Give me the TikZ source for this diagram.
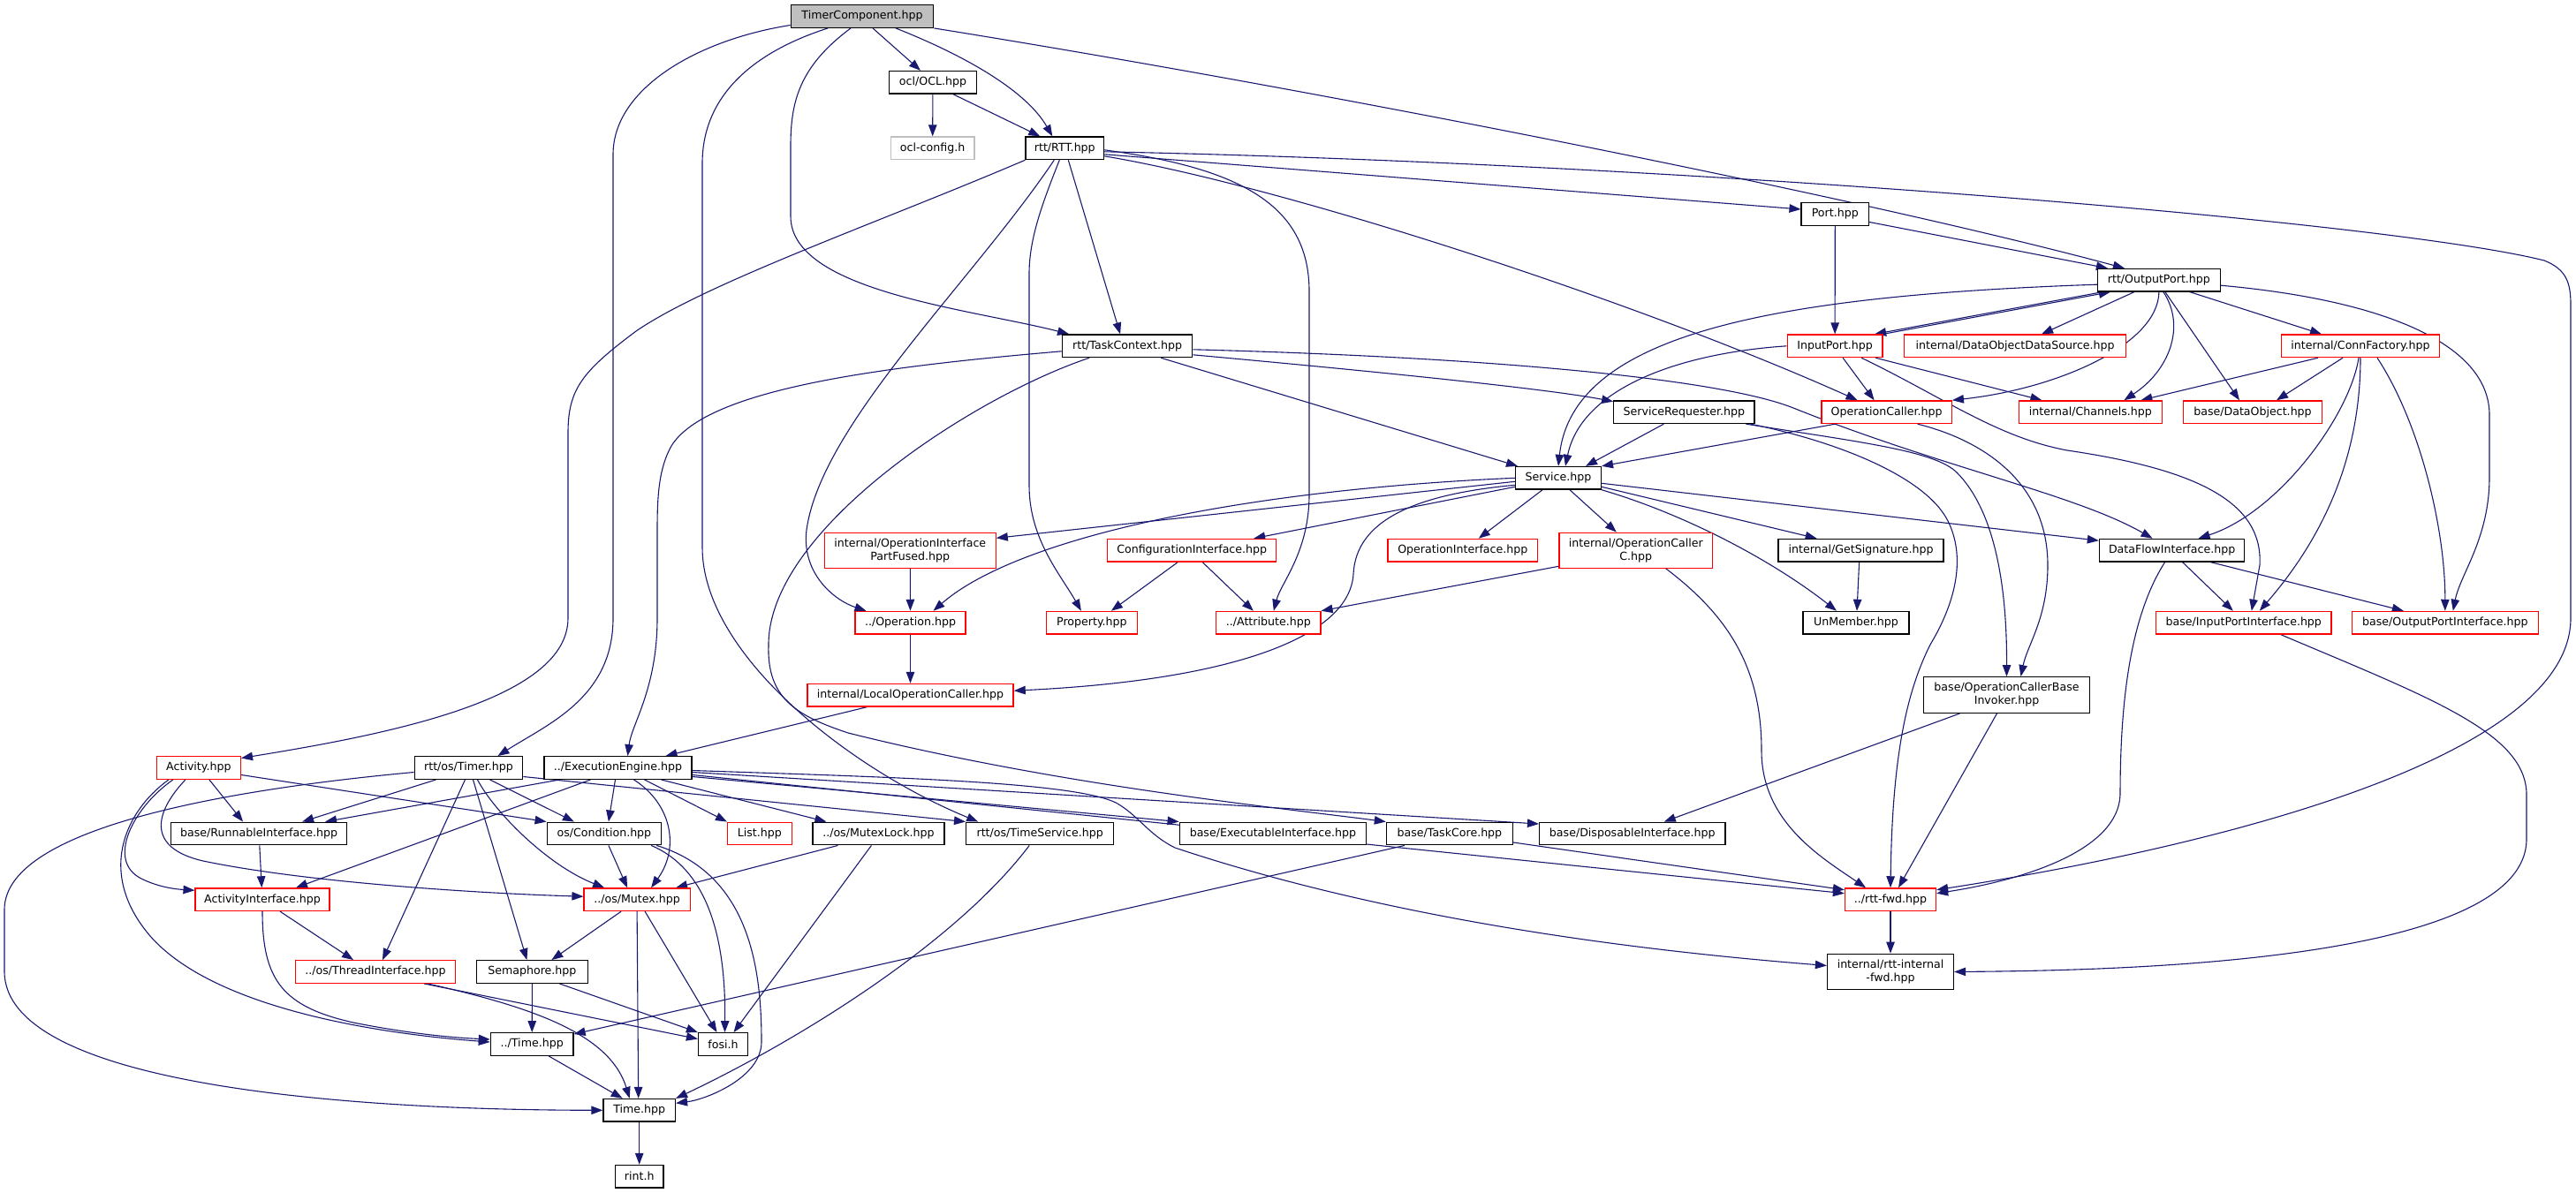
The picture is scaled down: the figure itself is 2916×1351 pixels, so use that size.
\documentclass[tikz,border=0pt]{standalone}
\usepackage{fontspec}
\setmainfont{DejaVu Sans}
\usepackage{tikz}
\usetikzlibrary{arrows.meta}
\pgfdeclarelayer{edgelayer}
\pgfsetlayers{edgelayer,main}
\definecolor{edgeblue}{HTML}{191970}
\definecolor{rootgray}{HTML}{BFBFBF}
\newcommand{\nodefont}{\fontsize{12.6}{15}\selectfont}
\tikzset{
  nd/.style={draw=black, line width=1.3pt, fill=white, inner sep=0pt, minimum height=25.6pt, align=center, font=\nodefont, text=black},
  rd/.style={nd, draw=red},
  grnode/.style={nd, draw=rootgray},
  rootnode/.style={nd, fill=rootgray},
  edg/.style={draw=edgeblue, line width=1.1pt, -{Triangle[length=13pt,width=9.5pt]}, fill=none},
}
\begin{document}
\begin{tikzpicture}[x=1pt,y=-1pt]
\useasboundingbox (0,0) rectangle (2916,1351);
% ---------------- nodes
\node[rootnode, minimum width=161.5pt] (tc) at (976,18.5) {TimerComponent.hpp};
\node[nd, minimum width=98.7pt] (ocl) at (1056,93.3) {ocl/OCL.hpp};
\node[grnode, minimum width=94.5pt] (oclcfg) at (1055.6,167.8) {ocl-config.h};
\node[nd, minimum width=88.4pt] (rtt) at (1205.3,167.8) {rtt/RTT.hpp};
\node[nd, minimum width=76.4pt] (port) at (2077.3,242.5) {Port.hpp};
\node[nd, minimum width=138.8pt] (outport) at (2443.9,317.2) {rtt/OutputPort.hpp};
\node[nd, minimum width=147.2pt] (taskctx) at (1276.1,391.8) {rtt/TaskContext.hpp};
\node[rd, minimum width=107.6pt] (inport) at (2077.1,391.8) {InputPort.hpp};
\node[rd, minimum width=251.2pt] (dods) at (2281.1,391.8) {internal/DataObjectDataSource.hpp};
\node[rd, minimum width=178.8pt] (connf) at (2672,391.8) {internal/ConnFactory.hpp};
\node[nd, minimum width=159.3pt] (servreq) at (1906.4,466.7) {ServiceRequester.hpp};
\node[rd, minimum width=147.4pt] (opcaller) at (2135.6,466.7) {OperationCaller.hpp};
\node[rd, minimum width=161.6pt] (channels) at (2366.4,466.7) {internal/Channels.hpp};
\node[rd, minimum width=157.3pt] (dataobj) at (2550,466.7) {base/DataObject.hpp};
\node[nd, minimum width=96.8pt] (service) at (1764,541.3) {Service.hpp};
\node[rd, minimum width=193.7pt, minimum height=40pt] (partfused) at (1030.3,623.3) {internal/OperationInterface\\PartFused.hpp};
\node[rd, minimum width=190.9pt] (config) at (1349.2,623.2) {ConfigurationInterface.hpp};
\node[rd, minimum width=169.9pt] (opiface) at (1655.8,623.2) {OperationInterface.hpp};
\node[rd, minimum width=173.6pt, minimum height=40pt] (opcallerc) at (1851.8,623.3) {internal/OperationCaller\\C.hpp};
\node[nd, minimum width=187pt] (getsig) at (2106.6,623.2) {internal/GetSignature.hpp};
\node[nd, minimum width=164.3pt] (dataflow) at (2458.6,623.2) {DataFlowInterface.hpp};
\node[rd, minimum width=125.2pt] (operation) at (1030.5,705.2) {../Operation.hpp};
\node[rd, minimum width=102.9pt] (property) at (1235.9,705.2) {Property.hpp};
\node[rd, minimum width=118.3pt] (attribute) at (1435.8,705.2) {../Attribute.hpp};
\node[nd, minimum width=120.1pt] (unmember) at (2101,705.2) {UnMember.hpp};
\node[rd, minimum width=198.3pt] (inppi) at (2539.8,705.2) {base/InputPortInterface.hpp};
\node[rd, minimum width=210.9pt] (outppi) at (2767.8,705.2) {base/OutputPortInterface.hpp};
\node[rd, minimum width=233.2pt] (localop) at (1030.5,787.2) {internal/LocalOperationCaller.hpp};
\node[nd, minimum width=188.3pt, minimum height=40.6pt] (invoker) at (2271.5,787) {base/OperationCallerBase\\Invoker.hpp};
\node[rd, minimum width=95pt] (activity) at (224.9,869.5) {Activity.hpp};
\node[nd, minimum width=122.4pt] (timer) at (530.5,869.5) {rtt/os/Timer.hpp};
\node[nd, minimum width=167.2pt] (execeng) at (699.5,869.5) {../ExecutionEngine.hpp};
\node[nd, minimum width=198.8pt] (runnable) at (293.1,944) {base/RunnableInterface.hpp};
\node[nd, minimum width=129.4pt] (condition) at (683.9,944) {os/Condition.hpp};
\node[rd, minimum width=72.6pt] (list) at (859.9,944) {List.hpp};
\node[nd, minimum width=149pt] (mutexlock) at (994.4,944) {../os/MutexLock.hpp};
\node[nd, minimum width=167.1pt] (timeserv) at (1177.2,944) {rtt/os/TimeService.hpp};
\node[nd, minimum width=211.4pt] (execif) at (1440.9,944) {base/ExecutableInterface.hpp};
\node[nd, minimum width=142.9pt] (taskcore) at (1640.9,944) {base/TaskCore.hpp};
\node[nd, minimum width=210.4pt] (dispif) at (1847.8,944) {base/DisposableInterface.hpp};
\node[rd, minimum width=151.8pt] (actif) at (297,1018.7) {ActivityInterface.hpp};
\node[rd, minimum width=120.1pt] (mutex) at (721.1,1018.7) {../os/Mutex.hpp};
\node[rd, minimum width=103pt] (rttfwd) at (2140,1018.7) {../rtt-fwd.hpp};
\node[rd, minimum width=181.5pt] (threadif) at (425,1100.5) {../os/ThreadInterface.hpp};
\node[nd, minimum width=125.7pt] (semaphore) at (602.4,1100.5) {Semaphore.hpp};
\node[nd, minimum width=143pt, minimum height=40.4pt] (intfwd) at (2140,1100.5) {internal/rtt-internal\\-fwd.hpp};
\node[nd, minimum width=93.6pt] (ostime) at (602.2,1182.5) {../Time.hpp};
\node[nd, minimum width=55.9pt] (fosi) at (818.5,1182.5) {fosi.h};
\node[nd, minimum width=81.5pt] (time) at (723.7,1257.3) {Time.hpp};
\node[nd, minimum width=54.5pt] (rint) at (723.7,1332.2) {rint.h};
% ---------------- edges
\begin{pgfonlayer}{edgelayer}
% TimerComponent
\draw[edg] ([xshift=12]tc.south) -- ([xshift=-14]ocl.north);
\draw[edg] ([xshift=38]tc.south) .. controls (1085,60) and (1160,100) .. ([xshift=-14]rtt.north);
\draw[edg] ([xshift=-13]tc.south) .. controls (905,75) and (895,115) .. (895,165) -- (895,245) .. controls (895,330) and (1100,350) .. ([xshift=-66]taskctx.north);
\draw[edg] (tc.south east) .. controls (1500,103) and (2100,222) .. ([xshift=-39]outport.north);
\draw[edg] ([yshift=-10]tc.west) .. controls (790,45) and (694,100) .. (694,175) -- (694,700) .. controls (694,790) and (620,820) .. ([xshift=33]timer.north);
\draw[edg] ([xshift=-39]tc.south) .. controls (850,60) and (795,110) .. (795,185) -- (795,620) .. controls (795,740) and (960,870) .. ([xshift=-70]timeserv.north);
% OCL
\draw[edg] (ocl) -- (oclcfg);
\draw[edg] ([xshift=23]ocl.south) -- ([xshift=-28]rtt.north);
% RTT
\draw[edg] (rtt.south west) .. controls (1000,250) and (800,320) .. (720,375) .. controls (660,420) and (643,440) .. (643,490) -- (643,700) .. controls (643,790) and (450,830) .. ([yshift=11]activity.east);
\draw[edg] ([xshift=4]rtt.south) -- ([xshift=-8]taskctx.north);
\draw[edg] ([xshift=-12]rtt.south) .. controls (1100,320) and (930,480) .. (913,600) .. controls (907,650) and (945,680) .. ([xshift=-50]operation.north);
\draw[edg] ([xshift=-6]rtt.south) .. controls (1180,230) and (1165,270) .. (1165,310) -- (1165,550) .. controls (1165,610) and (1200,650) .. ([xshift=-12]property.north);
\draw[edg] ([yshift=-2]rtt.east) .. controls (1400,190) and (1482,230) .. (1482,330) -- (1482,560) .. controls (1482,625) and (1450,660) .. ([xshift=6]attribute.north);
\draw[edg] ([yshift=-7]rtt.east) -- ([yshift=5.5]port.west);
\draw[edg] ([yshift=-9]rtt.east) .. controls (1450,210) and (1850,340) .. ([xshift=-33]opcaller.north);
\draw[edg] ([yshift=-4]rtt.east) .. controls (1900,185) and (2700,250) .. (2880,295) .. controls (2905,305) and (2910,320) .. (2910,345) -- (2910,700) .. controls (2910,860) and (2500,960) .. ([yshift=11]rttfwd.east);
% Port / OutputPort / InputPort
\draw[edg] (port) -- (inport);
\draw[edg] ([yshift=-9]port.east) -- ([xshift=-58]outport.north);
\draw[edg] ([xshift=-64]outport.south) -- ([xshift=45]inport.north);
\draw[edg] (inport.north east) -- ([xshift=-55]outport.south);
\draw[edg] ([xshift=-28]outport.south) -- ([xshift=30]dods.north);
\draw[edg] ([xshift=35]outport.south) -- ([xshift=-44]connf.north);
\draw[edg] ([yshift=-5]outport.west) .. controls (2000,335) and (1780,380) .. (service.north);
\draw[edg] (outport.south) .. controls (2443,390) and (2330,440) .. (opcaller.north east);
\draw[edg] ([xshift=5]outport.south) .. controls (2475,370) and (2455,420) .. ([xshift=38]channels.north);
\draw[edg] ([xshift=7]outport.south) -- ([xshift=-15]dataobj.north);
\draw[edg] ([yshift=-6]outport.east) .. controls (2700,340) and (2818,390) .. (2818,470) -- (2818,540) .. controls (2818,610) and (2785,650) .. ([xshift=9]outppi.north);
\draw[edg] (inport.west) .. controls (1900,400) and (1790,440) .. ([xshift=8]service.north);
\draw[edg] ([xshift=9]inport.south) -- ([xshift=-14]opcaller.north);
\draw[edg] ([xshift=46]inport.south) -- ([xshift=-55]channels.north);
\draw[edg] ([xshift=30]inport.south) .. controls (2200,450) and (2260,495) .. (2340,510) .. controls (2490,532) and (2562,570) .. (2558,640) -- ([xshift=9]inppi.north);
% ConnFactory
\draw[edg] ([xshift=-48]connf.south) -- ([xshift=57]channels.north);
\draw[edg] ([xshift=-20]connf.south) -- ([xshift=27]dataobj.north);
\draw[edg] ([xshift=-2]connf.south) .. controls (2660,470) and (2580,580) .. ([xshift=30]dataflow.north);
\draw[edg] (connf.south) .. controls (2672,530) and (2620,620) .. ([xshift=18]inppi.north);
\draw[edg] ([xshift=19]connf.south) .. controls (2740,480) and (2768,600) .. (outppi.north);
% ServiceRequester / OperationCaller
\draw[edg] ([xshift=-23]servreq.south) -- ([xshift=31]service.north);
\draw[edg] ([xshift=-58]opcaller.south) -- (service.north east);
\draw[edg] ([xshift=70]servreq.south) .. controls (2100,500) and (2190,510) .. (2215,535) .. controls (2250,570) and (2272,640) .. (invoker.north);
\draw[edg] ([xshift=75]servreq.south) .. controls (2080,500) and (2180,540) .. (2205,590) .. controls (2225,630) and (2215,680) .. (2185,730) .. controls (2160,780) and (2142,850) .. (rttfwd.north);
\draw[edg] ([xshift=35]opcaller.south) .. controls (2250,500) and (2318,550) .. (2318,640) .. controls (2318,700) and (2295,730) .. ([xshift=16]invoker.north);
% Invoker
\draw[edg] ([xshift=-53]invoker.south) -- ([xshift=36]dispif.north);
\draw[edg] ([xshift=-11]invoker.south) -- ([xshift=9]rttfwd.north);
% OperationCallerC
\draw[edg] ([yshift=-18]opcallerc.west) -- (attribute.north east);
\draw[edg] ([xshift=34]opcallerc.south) .. controls (1960,700) and (1994,760) .. (1994,850) .. controls (1994,930) and (2060,970) .. ([xshift=-28]rttfwd.north);
% Service
\draw[edg] (service.west) .. controls (1400,555) and (1150,610) .. ([xshift=26]operation.north);
\draw[edg] ([yshift=-4]service.west) -- ([yshift=14]partfused.east);
\draw[edg] ([yshift=-10]service.west) -- ([xshift=70]config.north);
\draw[edg] ([yshift=-8]service.west) .. controls (1600,560) and (1535,590) .. (1532,650) .. controls (1528,720) and (1400,770) .. ([yshift=5]localop.east);
\draw[edg] ([xshift=-18]service.south) -- ([xshift=18]opiface.north);
\draw[edg] ([xshift=13]service.south) -- ([xshift=-22]opcallerc.north);
\draw[edg] ([yshift=-10]service.east) -- ([xshift=-50]getsig.north);
\draw[edg] (service.south east) .. controls (1900,580) and (2000,630) .. ([xshift=-22]unmember.north);
\draw[edg] ([yshift=-6]service.east) -- ([yshift=11]dataflow.west);
\draw[edg] ([xshift=-2]getsig.south) -- ([xshift=1]unmember.north);
% Configuration etc
\draw[edg] ([xshift=-16]config.south) -- ([xshift=22]property.north);
\draw[edg] ([xshift=12]config.south) -- ([xshift=-17]attribute.north);
\draw[edg] (partfused) -- (operation);
\draw[edg] (operation) -- (localop);
\draw[edg] ([xshift=-49]localop.south) -- ([xshift=54]execeng.north);
% TaskContext
\draw[edg] ([yshift=-6]taskctx.west) .. controls (1000,415) and (800,440) .. (760,505) .. controls (746,530) and (744,560) .. (744,600) -- (744,700) .. controls (744,780) and (715,820) .. ([xshift=11]execeng.north);
\draw[edg] ([xshift=-43]taskctx.south) .. controls (1100,450) and (870,600) .. (870,730) .. controls (868,790) and (900,810) .. (960,830) .. controls (1200,890) and (1450,915) .. (taskcore.north west);
\draw[edg] ([xshift=38]taskctx.south) -- ([xshift=-46]service.north);
\draw[edg] ([yshift=-10]taskctx.east) .. controls (1550,420) and (1750,440) .. ([yshift=12]servreq.west);
\draw[edg] ([yshift=-4]taskctx.east) .. controls (1700,405) and (1950,430) .. (2030,462) .. controls (2200,530) and (2350,560) .. ([xshift=-22]dataflow.north);
% DataFlowInterface
\draw[edg] ([xshift=12]dataflow.south) -- ([xshift=-12]inppi.north);
\draw[edg] ([xshift=44]dataflow.south) -- ([xshift=-47]outppi.north);
\draw[edg] ([xshift=-8]dataflow.south) .. controls (2410,700) and (2400,800) .. (2400,900) .. controls (2398,960) and (2300,995) .. ([yshift=7]rttfwd.east);
\draw[edg] ([xshift=42]inppi.south) .. controls (2750,790) and (2860,830) .. (2860,900) -- (2860,950) .. controls (2860,1090) and (2400,1099) .. (intfwd.east);
\draw[edg] (rttfwd) -- (intfwd);
% Activity
\draw[edg] ([xshift=12]activity.south) -- ([xshift=-18]runnable.north);
\draw[edg] ([yshift=-8]activity.east) -- (condition.north west);
\draw[edg] ([xshift=-34]activity.south) .. controls (140,920) and (110,990) .. (170,1060) .. controls (240,1140) and (420,1170) .. ([yshift=2.5]ostime.west);
\draw[edg] ([xshift=-29]activity.south) .. controls (150,915) and (120,975) .. (160,995) .. controls (180,1005) and (200,1007) .. ([yshift=-3]actif.north west);
\draw[edg] ([xshift=-15]activity.south) .. controls (175,920) and (165,960) .. (230,975) .. controls (350,1000) and (550,1012) .. ([yshift=3.5]mutex.west);
% Timer
\draw[edg] ([yshift=-5]timer.west) .. controls (300,890) and (5,930) .. (5,1030) -- (5,1100) .. controls (5,1230) and (400,1257) .. (time.west);
\draw[edg] ([xshift=-37]timer.south) -- ([xshift=49]runnable.north);
\draw[edg] ([xshift=-4]timer.south) -- ([xshift=8]threadif.north);
\draw[edg] ([xshift=5]timer.south) -- ([xshift=-6]semaphore.north);
\draw[edg] ([xshift=10]timer.south) .. controls (560,920) and (620,980) .. ([xshift=-37]mutex.north);
\draw[edg] ([xshift=24]timer.south) -- ([xshift=-34]condition.north);
\draw[edg] ([yshift=-10]timer.east) -- (timeserv.north west);
% ExecutionEngine
\draw[edg] ([xshift=-66]execeng.south) -- ([xshift=75]runnable.north);
\draw[edg] ([xshift=-31]execeng.south) -- ([xshift=38]actif.north);
\draw[edg] ([xshift=-3]execeng.south) -- ([xshift=5]condition.north);
\draw[edg] ([xshift=18]execeng.south) .. controls (760,910) and (770,960) .. ([xshift=16]mutex.north);
\draw[edg] ([xshift=30]execeng.south) -- (list.north west);
\draw[edg] ([xshift=49]execeng.south) -- ([xshift=-59]mutexlock.north);
\draw[edg] ([yshift=-10]execeng.east) -- (execif.north west);
\draw[edg] ([yshift=-8]execeng.east) -- ([yshift=7]rttfwd.west);
\draw[edg] ([yshift=-5]execeng.east) -- ([yshift=11]dispif.west);
\draw[edg] ([yshift=-3]execeng.east) .. controls (1000,880) and (1220,885) .. (1265,910) .. controls (1290,925) and (1300,945) .. (1330,960) .. controls (1600,1050) and (1900,1080) .. ([yshift=7]intfwd.west);
% Condition, MutexLock, Mutex
\draw[edg] ([xshift=5]condition.south) -- ([xshift=-11]mutex.north);
\draw[edg] ([xshift=-12]condition.south east) .. controls (790,980) and (822,1040) .. ([xshift=2]fosi.north);
\draw[edg] ([xshift=-6]condition.south east) .. controls (850,990) and (862,1100) .. (862,1180) .. controls (862,1220) and (800,1245) .. ([yshift=8]time.east);
\draw[edg] ([xshift=-46]mutexlock.south) -- ([xshift=44]mutex.north);
\draw[edg] ([xshift=-8]mutexlock.south) -- ([xshift=12]fosi.north);
\draw[edg] ([xshift=-18]mutex.south) -- ([xshift=22]semaphore.north);
\draw[edg] (mutex.south) -- ([xshift=-1]time.north);
\draw[edg] ([xshift=9]mutex.south) -- ([xshift=-7]fosi.north);
% ActivityInterface, Runnable
\draw[edg] (runnable) -- (actif);
\draw[edg] ([xshift=20]actif.south) -- ([xshift=-25]threadif.north);
\draw[edg] (actif.south) .. controls (297,1110) and (320,1140) .. (400,1158) .. controls (460,1170) and (510,1175) .. ([yshift=5.5]ostime.west);
% ThreadInterface, Semaphore, Time
\draw[edg] ([xshift=59]threadif.south) .. controls (600,1140) and (690,1170) .. ([xshift=-11]time.north);
\draw[edg] ([xshift=55]threadif.south) -- ([yshift=6]fosi.west);
\draw[edg] (semaphore) -- (ostime);
\draw[edg] ([xshift=31]semaphore.south) -- (fosi.north west);
\draw[edg] ([xshift=19]ostime.south) -- ([xshift=-19]time.north);
\draw[edg] (time) -- (rint);
% TaskCore, TimeService
\draw[edg] ([xshift=-51]taskcore.south) -- ([yshift=-2]ostime.north east);
\draw[edg] ([yshift=-10]taskcore.east) -- ([yshift=11]rttfwd.west);
\draw[edg] ([xshift=-12]timeserv.south) .. controls (1080,1070) and (900,1180) .. (time.north east);
\end{pgfonlayer}
\end{tikzpicture}
\end{document}
